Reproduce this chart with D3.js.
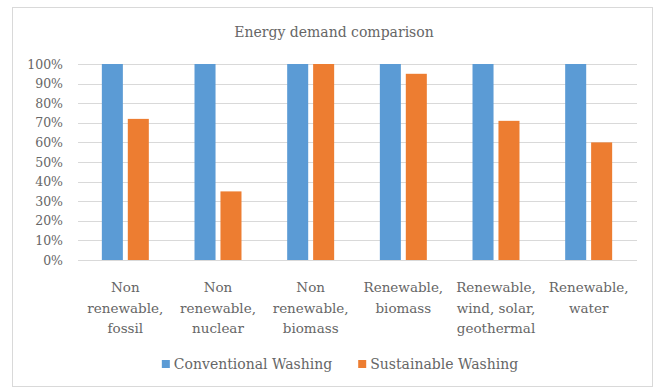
<!DOCTYPE html>
<html>
<head>
<meta charset="utf-8">
<script src="https://cdn.jsdelivr.net/npm/d3@7"></script>
<style>
  html, body { margin: 0; padding: 0; background: #fff; }
  svg { display: block; }
  text { font-family: "DejaVu Serif", "Liberation Serif", serif; fill: #666; }
</style>
</head>
<body>
<svg id="chart" width="654" height="388"></svg>
<script>
// Energy demand, relative to conventional washing
const categories = [
  ["Non", "renewable,", "fossil"],
  ["Non", "renewable,", "nuclear"],
  ["Non", "renewable,", "biomass"],
  ["Renewable,", "biomass"],
  ["Renewable,", "wind, solar,", "geothermal"],
  ["Renewable,", "water"]
];
const seriesNames = ["Conventional Washing", "Sustainable Washing"];
const conventional = [100, 100, 100, 100, 100, 100];
const sustainable = [72, 35, 100, 95, 71, 60];
const yTicks = [0, 10, 20, 30, 40, 50, 60, 70, 80, 90, 100];
const colors = ["#5b9bd5", "#ed7d31"];

const svg = d3.select("#chart");

// outer chart frame
svg.append("rect")
  .attr("x", 12.5).attr("y", 7.5)
  .attr("width", 640).attr("height", 379)
  .attr("fill", "#fff").attr("stroke", "#d9d9d9");

svg.append("text")
  .attr("x", 334).attr("y", 37)
  .attr("text-anchor", "middle")
  .style("font-size", "14px")
  .text("Energy demand comparison");

const plotLeft = 79, plotRight = 635, plotTop = 64, plotBottom = 260;

const y = d3.scaleLinear().domain([0, 100]).range([plotBottom, plotTop]);
const idx = d3.range(categories.length);
const x0 = d3.scaleBand().domain(idx).range([plotLeft, plotRight]).paddingInner(0.493).paddingOuter(0.2465);
const x1 = d3.scaleBand().domain([0, 1]).range([0, x0.bandwidth()]).paddingInner(0.19);

// gridlines
svg.append("g")
  .selectAll("line")
  .data(yTicks)
  .join("line")
  .attr("x1", plotLeft - 1).attr("x2", plotRight + 2)
  .attr("y1", d => Math.round(y(d)) + 0.5)
  .attr("y2", d => Math.round(y(d)) + 0.5)
  .attr("stroke", "#d9d9d9");

// y axis labels
const yAxis = d3.axisLeft(y).tickValues(yTicks).tickFormat(d => d + "%").tickSize(0).tickPadding(0);
const ya = svg.append("g").attr("transform", "translate(63,0)").call(yAxis);
ya.select(".domain").remove();
ya.selectAll("text")
  .style("font-family", "'DejaVu Serif', serif")
  .style("font-size", "12.5px")
  .attr("fill", "#666");

// bars
const values = [conventional, sustainable];
const groups = svg.append("g")
  .selectAll("g")
  .data(idx)
  .join("g")
  .attr("transform", i => `translate(${x0(i)},0)`);

groups.selectAll("rect")
  .data(i => values.map((s, k) => ({ k, v: s[i] })))
  .join("rect")
  .attr("x", d => x1(d.k))
  .attr("width", x1.bandwidth())
  .attr("y", d => y(d.v))
  .attr("height", d => y(0) - y(d.v))
  .attr("fill", d => colors[d.k]);

// category labels
const xl = svg.append("g");
idx.forEach(i => {
  const cx = x0(i) + x0.bandwidth() / 2;
  const t = xl.append("text")
    .attr("x", cx)
    .attr("y", 292)
    .attr("text-anchor", "middle")
    .style("font-size", "13.5px");
  categories[i].forEach((line, j) => {
    t.append("tspan")
      .attr("x", cx)
      .attr("dy", j === 0 ? 0 : 20.5)
      .text(line);
  });
});

// legend, centred under the plot
const lg = svg.append("g");
const items = seriesNames.map((name, k) => {
  const g = lg.append("g");
  g.append("rect").attr("y", 360).attr("width", 8).attr("height", 8).attr("fill", colors[k]);
  const t = g.append("text").attr("x", 12).attr("y", 369).style("font-size", "14px").text(name);
  return { g, w: 12 + t.node().getComputedTextLength() };
});
const gap = 26;
const total = d3.sum(items, d => d.w) + gap * (items.length - 1);
let lx = 340 - total / 2;
items.forEach(d => {
  d.g.attr("transform", `translate(${lx},0)`);
  lx += d.w + gap;
});
</script>
</body>
</html>
